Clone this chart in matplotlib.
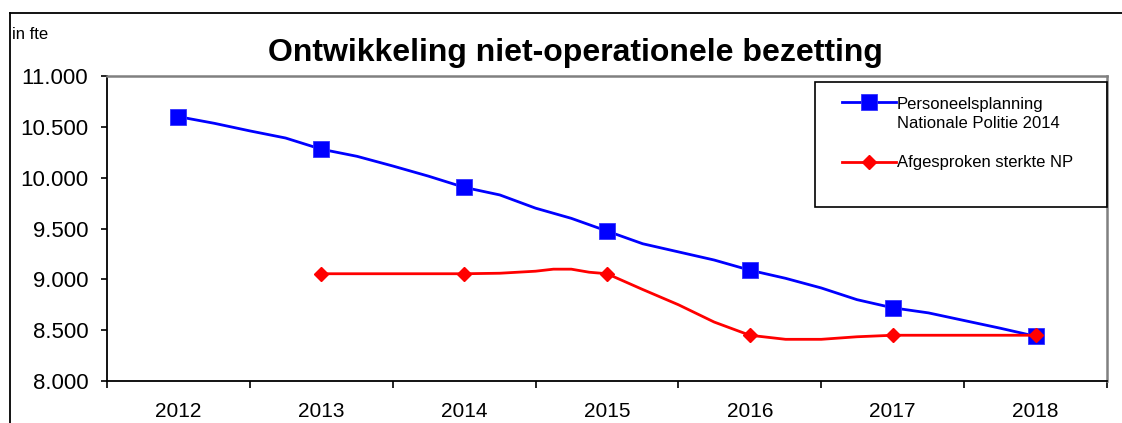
import matplotlib
matplotlib.use("Agg")
import matplotlib.pyplot as plt
from matplotlib.patches import Rectangle
from matplotlib.lines import Line2D
from matplotlib.ticker import FuncFormatter, FixedLocator

plt.rcParams['font.family'] = ['Liberation Sans', 'DejaVu Sans']

categories = ['2012', '2013', '2014', '2015', '2016', '2017', '2018']
first_year = 2012

blue_label_lines = ['Personeelsplanning', 'Nationale Politie 2014']
blue_years = [2012, 2012.25, 2012.5, 2012.75, 2013, 2013.25, 2013.5, 2013.75,
              2014, 2014.25, 2014.5, 2014.75, 2015, 2015.25, 2015.5, 2015.75,
              2016, 2016.25, 2016.5, 2016.75, 2017, 2017.25, 2017.5, 2017.75, 2018]
blue_values = [10600, 10535, 10460, 10390, 10280, 10210, 10115, 10015,
               9905, 9830, 9700, 9600, 9475, 9350, 9270, 9190,
               9090, 9010, 8915, 8800, 8720, 8670, 8595, 8520, 8440]

red_label = 'Afgesproken sterkte NP'
red_years = [2013, 2013.25, 2013.5, 2013.75, 2014, 2014.25, 2014.5, 2014.625,
             2014.75, 2014.875, 2015, 2015.25, 2015.5, 2015.75, 2016, 2016.25,
             2016.5, 2016.75, 2017, 2017.5, 2018]
red_values = [9055, 9055, 9055, 9055, 9055, 9060, 9080, 9100,
              9100, 9070, 9055, 8900, 8750, 8580, 8450, 8410,
              8410, 8435, 8450, 8450, 8450]

y_ticks = [8000, 8500, 9000, 9500, 10000, 10500, 11000]

W, H = 1122, 423
fig = plt.figure(figsize=(W / 100, H / 100), dpi=100)
ax = fig.add_axes([107 / W, (H - 381) / H, 1000 / W, 305 / H])

bx = [y - first_year for y in blue_years]
rx = [y - first_year for y in red_years]
b_marks = [i for i, y in enumerate(blue_years) if float(y).is_integer()]
r_marks = [i for i, y in enumerate(red_years) if float(y).is_integer()]

blue_style = dict(color='#0000FF', lw=2.0, marker='s', markersize=12,
                  markerfacecolor='#0000FF', markeredgecolor='#3333FF', markeredgewidth=0.6)
red_style = dict(color='#FF0000', lw=2.0, marker='D', markersize=7.5,
                 markerfacecolor='#FF0000', markeredgecolor='#FF0000')

ax.plot(bx, blue_values, markevery=b_marks, zorder=3, **blue_style)
ax.plot(rx, red_values, markevery=r_marks, zorder=4, **red_style)

n = len(categories)
ax.set_xlim(-0.5, n - 0.5)
ax.set_ylim(8000, 11000)

ax.xaxis.set_major_locator(FixedLocator([i - 0.5 for i in range(n + 1)]))
ax.xaxis.set_major_formatter(FuncFormatter(lambda v, p: ''))
ax.xaxis.set_minor_locator(FixedLocator(list(range(n))))
ax.set_xticklabels(categories, minor=True)
ax.tick_params(axis='x', which='major', length=5, width=1.2, direction='out', color='black')
ax.tick_params(axis='x', which='minor', length=0, pad=15, labelsize=15)

ax.set_yticks(y_ticks)
ax.yaxis.set_major_formatter(FuncFormatter(lambda v, p: f"{int(v):,}".replace(',', '.')))
ax.tick_params(axis='y', length=4.5, width=1.2, pad=9, labelsize=16, direction='out')

for s in ['left', 'bottom']:
    ax.spines[s].set_color('black')
    ax.spines[s].set_linewidth(1.3)
for s in ['top', 'right']:
    ax.spines[s].set_color('#808080')
    ax.spines[s].set_linewidth(1.8)

# legend (Excel-style: marker aligned with first label line)
tf = fig.transFigure
def fx(px):
    return px / W
def fy(py):
    return (H - py) / H

fig.add_artist(Rectangle((fx(815), fy(207)), (1107 - 815) / W, (207 - 82) / H,
                         transform=tf, fill=False, edgecolor='black', lw=1.2, zorder=5))
fig.add_artist(Line2D([fx(842), fx(896)], [fy(102), fy(102)], transform=tf,
                      markevery=[1], **{k: v for k, v in blue_style.items()}))
fig.artists[-1].set_data([fx(842), fx(869), fx(896)], [fy(102)] * 3)
fig.add_artist(Line2D([fx(842), fx(869), fx(896)], [fy(162)] * 3, transform=tf,
                      markevery=[1], **red_style))
fig.text(fx(897), fy(109), blue_label_lines[0], fontsize=12, va='baseline', ha='left')
fig.text(fx(897), fy(128), blue_label_lines[1], fontsize=12, va='baseline', ha='left')
fig.text(fx(897), fy(167), red_label, fontsize=12, va='baseline', ha='left')

# outer frame
fig.add_artist(Line2D([fx(10), fx(10)], [-0.05, fy(13)], transform=tf, color='black', lw=1.3))
fig.add_artist(Line2D([fx(10), 1.05], [fy(13), fy(13)], transform=tf, color='black', lw=1.3))

fig.text(fx(575), fy(61), 'Ontwikkeling niet-operationele bezetting', ha='center',
         va='baseline', fontsize=23, fontweight='bold')
fig.text(fx(12), fy(39), 'in fte', ha='left', va='baseline', fontsize=12)

fig.savefig('out.png', dpi=100)
